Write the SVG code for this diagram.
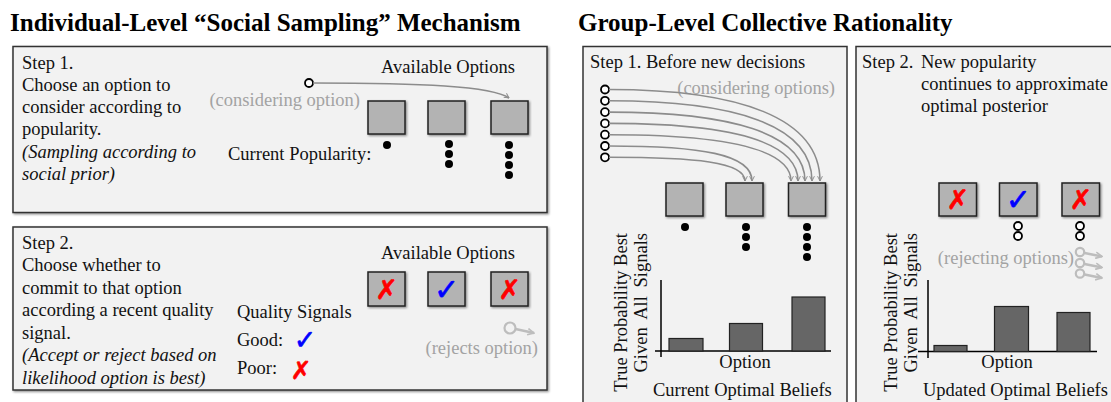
<svg xmlns="http://www.w3.org/2000/svg" width="1111" height="402" viewBox="0 0 1111 402">
<defs>
<style>
.panel{fill:#f2f2f2;stroke:#333;stroke-width:1.5}
.box{fill:#b3b3b3;stroke:#222;stroke-width:1.5}
.t{font-family:"Liberation Serif","Times New Roman",serif;font-size:18.5px;fill:#111}
.i{font-style:italic}
.title{font-family:"Liberation Serif","Times New Roman",serif;font-size:25px;font-weight:bold;fill:#000}
.g{fill:#a3a3a3}
.dot{fill:#000}
.oc{fill:#fff;stroke:#000;stroke-width:1.8}
.bar{fill:#666;stroke:#222;stroke-width:1.2}
.axis{stroke:#000;stroke-width:1.5;fill:none}
.cur{fill:none;stroke:#8c8c8c;stroke-width:1.6}
.rej{fill:none;stroke:#bdbdbd;stroke-width:2.4}
.rc{fill:none;stroke:#bdbdbd;stroke-width:2.2}
.sym{font-family:"DejaVu Sans",sans-serif;text-anchor:middle;stroke-width:0.6}
.x{fill:#f00;stroke:#f00;font-size:27px}
.v{fill:#00f;stroke:#00f;font-size:30px}
</style>
<filter id="sh" x="-5%" y="-5%" width="115%" height="115%">
<feDropShadow dx="1.2" dy="1.2" stdDeviation="0.8" flood-color="#000" flood-opacity="0.45"/>
</filter>
<marker id="ah" viewBox="0 0 10 10" refX="9" refY="5" markerWidth="6" markerHeight="6" orient="auto" markerUnits="userSpaceOnUse">
<path d="M1,1 L9,5 L1,9" fill="none" stroke="#8c8c8c" stroke-width="1.6"/>
</marker>
<marker id="ahr" viewBox="0 0 10 10" refX="9" refY="5" markerWidth="8" markerHeight="8" orient="auto" markerUnits="userSpaceOnUse">
<path d="M1,1 L9,5 L1,9" fill="none" stroke="#bdbdbd" stroke-width="2"/>
</marker>
</defs>
<rect width="1111" height="402" fill="#fff"/>

<text class="title" x="10" y="31">Individual-Level “Social Sampling” Mechanism</text>
<text class="title" x="578" y="31">Group-Level Collective Rationality</text>

<!-- Left top panel -->
<g id="ind-step1">
<rect class="panel" x="13" y="46.5" width="534" height="166" filter="url(#sh)"/>
<text class="t" x="22" y="69">Step 1.</text>
<text class="t" x="22" y="91">Choose an option to</text>
<text class="t" x="22" y="113">consider according to</text>
<text class="t" x="22" y="135">popularity.</text>
<text class="t i" x="22" y="158">(Sampling according to</text>
<text class="t i" x="22" y="180">social prior)</text>
<text class="t" x="448" y="73" text-anchor="middle">Available Options</text>
<text class="t g" x="360" y="106" text-anchor="end">(considering option)</text>
<text class="t" x="228" y="160">Current Popularity:</text>
<rect class="box" x="368" y="101" width="37" height="33" filter="url(#sh)"/>
<rect class="box" x="428" y="101" width="37" height="33" filter="url(#sh)"/>
<rect class="box" x="491" y="101" width="37" height="33" filter="url(#sh)"/>
<circle class="dot" cx="387" cy="145" r="4"/>
<circle class="dot" cx="449" cy="144" r="4"/>
<circle class="dot" cx="449" cy="154" r="4"/>
<circle class="dot" cx="449" cy="164" r="4"/>
<circle class="dot" cx="509" cy="145" r="4"/>
<circle class="dot" cx="509" cy="155" r="4"/>
<circle class="dot" cx="509" cy="165" r="4"/>
<circle class="dot" cx="509" cy="175" r="4"/>
<circle class="oc" cx="309" cy="83" r="4"/>
</g>

<!-- Left bottom panel -->
<g id="ind-step2">
<rect class="panel" x="13" y="227" width="534" height="163" filter="url(#sh)"/>
<text class="t" x="22" y="249">Step 2.</text>
<text class="t" x="22" y="271">Choose whether to</text>
<text class="t" x="22" y="294">commit to that option</text>
<text class="t" x="22" y="316">according a recent quality</text>
<text class="t" x="22" y="339">signal.</text>
<text class="t i" x="22" y="361">(Accept or reject based on</text>
<text class="t i" x="22" y="384">likelihood option is best)</text>
<text class="t" x="237" y="318">Quality Signals</text>
<text class="t" x="237" y="346">Good:</text>
<text class="sym v" x="305" y="349" style="font-size:27px">✓</text>
<text class="t" x="237" y="374">Poor:</text>
<text class="sym x" x="301" y="379" style="font-size:25px">✗</text>
<text class="t" x="448" y="259" text-anchor="middle">Available Options</text>
<rect class="box" x="368" y="272" width="37" height="34" filter="url(#sh)"/>
<rect class="box" x="428" y="272" width="37" height="34" filter="url(#sh)"/>
<rect class="box" x="491" y="272" width="37" height="34" filter="url(#sh)"/>
<text class="sym x" x="386.5" y="299">✗</text>
<text class="sym v" x="446.5" y="300">✓</text>
<text class="sym x" x="509.5" y="299">✗</text>
<circle class="rc" cx="510" cy="328" r="5.5"/>
<text class="t g" x="538" y="354" text-anchor="end">(rejects option)</text>
</g>

<!-- Middle panel -->
<g id="grp-step1">
<rect class="panel" x="583" y="46.5" width="264" height="370"/>
<text class="t" x="590" y="68">Step 1.  Before new decisions</text>
<text class="t g" x="835" y="94" text-anchor="end">(considering options)</text>
<rect class="box" x="666" y="183" width="37" height="33" filter="url(#sh)"/>
<rect class="box" x="726" y="183" width="37" height="33" filter="url(#sh)"/>
<rect class="box" x="788.5" y="183" width="37" height="33" filter="url(#sh)"/>
<circle class="dot" cx="685" cy="227" r="4"/>
<circle class="dot" cx="746" cy="227" r="4"/>
<circle class="dot" cx="746" cy="237" r="4"/>
<circle class="dot" cx="746" cy="247" r="4"/>
<circle class="dot" cx="807" cy="227" r="4"/>
<circle class="dot" cx="807" cy="237" r="4"/>
<circle class="dot" cx="807" cy="247" r="4"/>
<circle class="dot" cx="807" cy="257" r="4"/>
<circle class="oc" cx="605" cy="89.5" r="4"/>
<circle class="oc" cx="605" cy="100.8" r="4"/>
<circle class="oc" cx="605" cy="112.1" r="4"/>
<circle class="oc" cx="605" cy="123.4" r="4"/>
<circle class="oc" cx="605" cy="134.7" r="4"/>
<circle class="oc" cx="605" cy="146" r="4"/>
<circle class="oc" cx="605" cy="157.3" r="4"/>
<path class="axis" d="M661,280 V357 M655,351 H831"/>
<rect class="bar" x="669" y="338.5" width="34" height="12.5"/>
<rect class="bar" x="729.5" y="323.5" width="33" height="27.5"/>
<rect class="bar" x="792" y="297" width="33" height="54"/>
<text class="t" x="745" y="368" text-anchor="middle">Option</text>
<text class="t" x="653" y="396">Current Optimal Beliefs</text>
<text class="t" transform="translate(627,233) rotate(-90)" text-anchor="end">True Probability Best</text>
<text class="t" transform="translate(647,233) rotate(-90)" text-anchor="end" word-spacing="4">Given All Signals</text>
</g>

<!-- Right panel -->
<g id="grp-step2">
<rect class="panel" x="856" y="46.5" width="270" height="370"/>
<text class="t" x="862" y="68">Step 2.</text>
<text class="t" x="921" y="68">New popularity</text>
<text class="t" x="921" y="90">continues to approximate</text>
<text class="t" x="921" y="112">optimal posterior</text>
<rect class="box" x="939" y="183" width="37.5" height="33" filter="url(#sh)"/>
<rect class="box" x="999.5" y="183" width="37.5" height="33" filter="url(#sh)"/>
<rect class="box" x="1062" y="183" width="37.5" height="33" filter="url(#sh)"/>
<text class="sym x" x="957.8" y="209">✗</text>
<text class="sym v" x="1018.2" y="210">✓</text>
<text class="sym x" x="1080.8" y="209">✗</text>
<circle class="oc" cx="1018" cy="226" r="4"/>
<circle class="oc" cx="1018" cy="236" r="4"/>
<circle class="oc" cx="1080" cy="226" r="4"/>
<circle class="oc" cx="1080" cy="236" r="4"/>
<text class="t g" x="1074" y="264" text-anchor="end">(rejecting options)</text>
<path class="axis" d="M928,280 V358 M918,351.5 H1097"/>
<rect class="bar" x="934" y="345.5" width="33" height="6"/>
<rect class="bar" x="994.5" y="306.5" width="34" height="45"/>
<rect class="bar" x="1057" y="312.5" width="33" height="39"/>
<text class="t" x="1007" y="368" text-anchor="middle">Option</text>
<text class="t" x="923" y="396">Updated Optimal Beliefs</text>
<text class="t" transform="translate(897,233) rotate(-90)" text-anchor="end">True Probability Best</text>
<text class="t" transform="translate(917,233) rotate(-90)" text-anchor="end" word-spacing="4">Given All Signals</text>
<circle class="rc" cx="1080" cy="252" r="4.2"/>
<circle class="rc" cx="1080" cy="263" r="4.2"/>
<circle class="rc" cx="1080" cy="273.5" r="4.2"/>
</g>

<!-- Connectors -->
<g id="connectors">
<path class="cur" d="M313,83 C420,83 492,86 509,98" marker-end="url(#ah)"/>
<path class="cur" d="M609,89.5 C740,89.5 820,118 820,181" marker-end="url(#ah)"/>
<path class="cur" d="M609,100.8 C735,100.8 812,125 812,181" marker-end="url(#ah)"/>
<path class="cur" d="M609,112.1 C730,112.1 805,133 805,181" marker-end="url(#ah)"/>
<path class="cur" d="M609,123.4 C725,123.4 798,140 798,181" marker-end="url(#ah)"/>
<path class="cur" d="M609,134.7 C720,134.7 791,148 791,181" marker-end="url(#ah)"/>
<path class="cur" d="M609,146 C700,146 752,154 752,181" marker-end="url(#ah)"/>
<path class="cur" d="M609,157.3 C695,157.3 745,162 745,181" marker-end="url(#ah)"/>
<path class="rej" d="M515.5,329 L534,333" marker-end="url(#ahr)"/>
<path class="rej" d="M1084.5,253 L1102,256.5" marker-end="url(#ahr)"/>
<path class="rej" d="M1084.5,264 L1102,267.5" marker-end="url(#ahr)"/>
<path class="rej" d="M1084.5,274.5 L1102,278" marker-end="url(#ahr)"/>
</g>
</svg>
